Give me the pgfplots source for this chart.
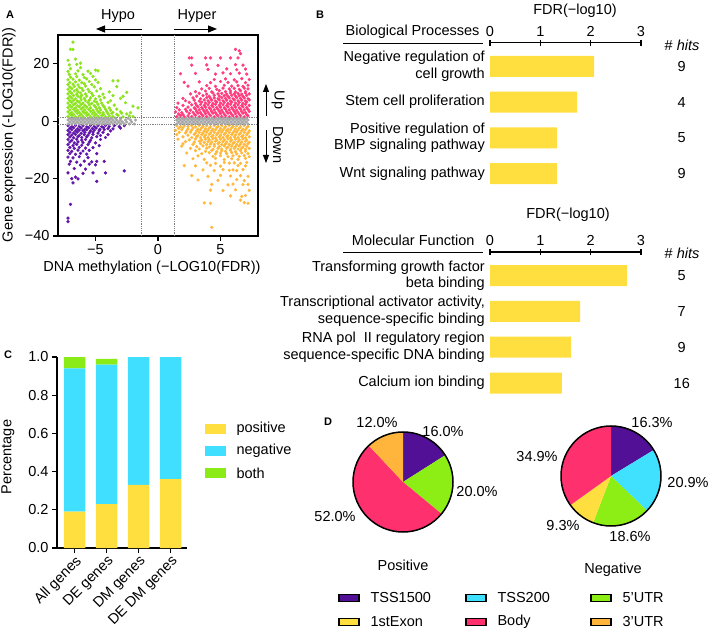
\documentclass[border=0pt]{standalone}
\usepackage{fontspec}
\setmainfont{Liberation Sans}
\usepackage{pgfplots}
\pgfplotsset{compat=1.18}
\usetikzlibrary{arrows.meta}

\definecolor{upG}{RGB}{140,228,30}
\definecolor{dnP}{RGB}{98,22,170}
\definecolor{upR}{RGB}{255,60,125}
\definecolor{dnO}{RGB}{255,184,60}
\definecolor{midG}{RGB}{165,165,165}
\definecolor{barY}{RGB}{255,222,64}
\definecolor{barC}{RGB}{64,222,255}
\definecolor{barG}{RGB}{138,235,22}
\definecolor{cTSSa}{RGB}{82,16,150}
\definecolor{cTSSb}{RGB}{64,224,255}
\definecolor{cUTRf}{RGB}{140,238,20}
\definecolor{cExon}{RGB}{255,222,64}
\definecolor{cBody}{RGB}{255,48,110}
\definecolor{cUTRt}{RGB}{255,180,60}

\newcommand{\fs}{\fontsize{14.5}{16.5}\selectfont}
\pgfplotsset{every axis/.append style={font=\fs,
  axis line style={line width=1.1pt},
  every tick/.style={line width=1.1pt, black},
  major tick length=5pt},
  dots/.style={only marks, mark=*, mark size=1.45pt}}

\begin{document}
\begin{tikzpicture}[x=1pt,y=1pt,font=\fs]
\path[use as bounding box] (0,0) rectangle (709,632);

% ---------------- A: scatter ----------------
\begin{axis}[at={(58pt,396pt)}, anchor=south west, scale only axis,
  width=200pt, height=201pt,
  xmin=-8, xmax=8, ymin=-40, ymax=30,
  xtick={-5,0,5}, xticklabels={−5,0,5},
  ytick={-40,-20,0,20}, yticklabels={−40,−20,0,20},
  tick align=outside, xtick pos=left, ytick pos=left]
  % hypo, up
  \addplot[dots, color=upG] coordinates {
  (-7.2,1.6)(-6.9,1.9)(-6.6,1.5)(-6.3,1.8)(-6.0,1.6)(-5.7,2.0)(-5.4,1.5)(-5.1,1.8)(-4.8,1.6)(-4.5,1.9)(-4.2,1.5)(-3.9,1.8)(-3.6,1.6)(-3.2,2.0)(-2.8,1.5)(-2.3,1.8)(-2.0,1.6)
  (-7.05,2.5)(-6.75,2.3)(-6.45,2.7)(-6.15,2.4)(-5.85,2.8)(-5.55,2.3)(-5.25,2.6)(-4.95,2.4)(-4.65,2.8)(-4.35,2.3)(-4.0,2.6)(-3.7,2.7)(-3.3,2.4)(-2.9,2.8)(-2.5,2.5)
  (-7.2,3.2)(-6.9,3.0)(-6.6,3.4)(-6.3,3.1)(-6.0,3.3)(-5.7,3.0)(-5.4,3.4)(-5.1,3.1)(-4.8,3.3)(-4.4,3.0)(-4.1,3.4)(-3.6,3.1)(-3.0,3.3)(-2.2,3.0)
  (-7.05,3.9)(-6.75,4.1)(-6.45,3.8)(-6.15,4.2)(-5.85,3.9)(-5.55,4.1)(-5.2,3.8)(-4.9,4.2)(-4.6,3.9)(-4.2,4.1)(-3.8,3.8)(-3.3,4.2)
  (-7.2,4.7)(-6.9,4.9)(-6.6,4.6)(-6.3,5.0)(-6.0,4.7)(-5.7,4.9)(-5.4,4.6)(-5.0,5.0)(-4.7,4.7)(-4.3,4.9)(-3.9,4.6)(-1.6,4.6)
  (-7.05,5.5)(-6.75,5.7)(-6.45,5.4)(-6.15,5.8)(-5.85,5.5)(-5.5,5.7)(-5.1,5.4)(-4.8,5.8)(-4.4,5.5)(-3.5,5.6)(-2.0,5.2)
  (-7.2,6.3)(-6.9,6.5)(-6.6,6.2)(-6.3,6.6)(-6.0,6.3)(-5.6,6.5)(-5.3,6.2)(-4.9,6.6)(-4.5,6.3)(-4.0,6.5)(-2.6,6.4)
  (-7.05,7.1)(-6.75,7.3)(-6.45,7.0)(-6.15,7.4)(-5.8,7.1)(-5.5,7.3)(-5.1,7.0)(-4.6,7.4)(-3.8,7.1)
  (-7.2,7.9)(-6.9,8.1)(-6.6,7.8)(-6.2,8.2)(-5.9,7.9)(-5.4,8.1)(-5.0,7.8)(-4.3,8.2)(-3.0,7.9)
  (-7.05,8.7)(-6.75,8.9)(-6.4,8.6)(-6.1,9.0)(-5.7,8.7)(-5.2,8.9)(-4.7,8.6)(-3.6,8.9)(-2.8,8.6)
  (-7.2,9.5)(-6.9,9.7)(-6.5,9.4)(-6.2,9.8)(-5.8,9.5)(-5.3,9.7)(-4.4,9.4)(-2.5,10.0)
  (-7.05,10.3)(-6.7,10.5)(-6.4,10.2)(-6.0,10.6)(-5.5,10.3)(-4.9,10.5)(-3.9,10.2)
  (-7.2,11.1)(-6.9,11.3)(-6.5,11.0)(-6.1,11.4)(-5.6,11.1)(-4.6,11.3)
  (-7.05,11.9)(-6.7,12.1)(-6.3,11.8)(-5.8,12.2)(-5.1,11.9)(-3.3,12.0)
  (-7.2,12.7)(-6.8,12.9)(-6.4,12.6)(-5.9,13.0)(-5.3,12.7)
  (-7.05,13.5)(-6.6,13.7)(-6.1,13.4)(-5.5,13.8)(-4.8,13.5)(-3.6,14.0)(-3.2,14.0)
  (-7.2,14.4)(-6.8,14.6)(-6.3,14.3)(-5.7,14.7)(-5.0,14.4)
  (-7.0,15.3)(-6.5,15.5)(-5.9,15.2)(-5.2,15.6)
  (-7.1,16.3)(-6.6,16.5)(-6.0,16.2)(-5.4,16.6)(-5.0,17.8)(-4.8,17.5)
  (-7.2,17.3)(-6.4,17.5)(-5.6,17.4)(-7.0,18.3)(-6.2,18.6)(-7.1,19.6)(-6.5,19.8)(-6.2,20.2)
  (-7.2,21.2)(-6.6,21.6)(-7.0,25.0)(-6.8,25.0)(-6.8,27.5)
  };
  % hypo, down
  \addplot[dots, color=dnP] coordinates {
  (-7.2,-1.6)(-6.9,-1.9)(-6.6,-1.5)(-6.3,-1.8)(-6.0,-1.6)(-5.7,-2.0)(-5.4,-1.5)(-5.1,-1.8)(-4.8,-1.6)(-4.5,-1.9)(-4.2,-1.5)(-3.9,-1.8)(-3.5,-1.6)(-3.1,-1.9)(-2.7,-1.6)
  (-7.05,-2.5)(-6.75,-2.3)(-6.45,-2.7)(-6.15,-2.4)(-5.85,-2.8)(-5.55,-2.3)(-5.25,-2.6)(-4.95,-2.4)(-4.65,-2.8)(-4.35,-2.3)(-4.0,-2.6)(-3.6,-2.7)(-3.0,-2.4)
  (-7.2,-3.2)(-6.9,-3.0)(-6.6,-3.4)(-6.3,-3.1)(-6.0,-3.3)(-5.7,-3.0)(-5.4,-3.4)(-5.1,-3.1)(-4.7,-3.3)(-4.3,-3.0)(-3.8,-3.4)
  (-7.05,-3.9)(-6.75,-4.1)(-6.45,-3.8)(-6.15,-4.2)(-5.85,-3.9)(-5.5,-4.1)(-5.2,-3.8)(-4.8,-4.2)(-4.4,-3.9)
  (-7.2,-4.7)(-6.9,-4.9)(-6.6,-4.6)(-6.3,-5.0)(-5.9,-4.7)(-5.6,-4.9)(-5.2,-4.6)(-4.6,-5.0)(-4.0,-4.7)
  (-7.05,-5.5)(-6.75,-5.8)(-6.4,-5.4)(-6.1,-5.7)(-5.7,-5.5)(-5.3,-5.8)(-4.9,-5.4)(-4.2,-5.7)
  (-7.2,-6.4)(-6.9,-6.7)(-6.5,-6.3)(-6.1,-6.6)(-5.8,-6.4)(-5.4,-6.7)(-4.6,-6.4)
  (-7.05,-7.3)(-6.7,-7.6)(-6.4,-7.2)(-6.0,-7.5)(-5.5,-7.3)(-5.0,-7.6)
  (-7.2,-8.2)(-6.8,-8.5)(-6.5,-8.1)(-6.1,-8.4)(-5.6,-8.2)(-4.7,-8.5)
  (-7.05,-9.2)(-6.7,-9.5)(-6.3,-9.1)(-5.8,-9.4)(-5.2,-9.2)
  (-7.2,-10.2)(-6.9,-10.5)(-6.4,-10.1)(-6.0,-10.4)(-5.5,-10.2)
  (-7.05,-11.3)(-6.6,-11.6)(-6.2,-11.2)(-5.7,-11.5)(-4.9,-11.3)
  (-7.2,-12.5)(-6.8,-12.8)(-6.3,-12.4)(-5.6,-12.7)
  (-7.0,-14.0)(-6.5,-14.3)(-5.9,-13.9)(-5.3,-14.2)(-4.9,-14.0)(-4.3,-14.0)
  (-7.1,-15.0)(-6.2,-15.3)(-5.5,-15.0)(-5.0,-15.2)
  (-6.7,-16.5)(-5.8,-16.7)(-7.2,-18.0)(-6.0,-18.2)(-5.2,-18.0)(-4.2,-18.0)(-6.6,-19.5)
  (-6.9,-20.0)(-6.4,-20.1)(-4.9,-21.0)(-6.8,-21.5)(-2.7,-17.3)(-7.0,-29.0)(-7.2,-33.8)(-7.2,-35.0)
  };
  % hyper, up
  \addplot[dots, color=upR] coordinates {
  (1.5,1.6)(1.8,1.9)(2.1,1.5)(2.4,1.8)(2.7,1.6)(3.0,2.0)(3.3,1.5)(3.6,1.8)(3.9,1.6)(4.2,1.9)(4.5,1.5)(4.8,1.8)(5.1,1.6)(5.4,1.9)(5.7,1.5)(6.0,1.8)(6.3,1.6)(6.6,1.9)(6.9,1.5)(7.2,1.8)
  (1.65,2.5)(2.0,2.3)(2.5,2.7)(2.9,2.4)(3.2,2.8)(3.5,2.3)(3.8,2.6)(4.1,2.4)(4.4,2.8)(4.7,2.3)(5.0,2.6)(5.3,2.4)(5.6,2.8)(5.9,2.3)(6.2,2.6)(6.5,2.4)(6.8,2.8)(7.1,2.3)
  (1.4,3.2)(1.9,3.0)(2.3,3.4)(2.8,3.1)(3.1,3.3)(3.4,3.0)(3.7,3.4)(4.0,3.1)(4.3,3.3)(4.6,3.0)(4.9,3.4)(5.2,3.1)(5.5,3.3)(5.8,3.0)(6.1,3.4)(6.4,3.1)(6.7,3.3)(7.0,3.0)(7.3,3.4)
  (1.7,3.9)(2.2,4.1)(2.6,3.8)(3.0,4.2)(3.3,3.9)(3.6,4.1)(3.9,3.8)(4.2,4.2)(4.5,3.9)(4.8,4.1)(5.1,3.8)(5.4,4.2)(5.7,3.9)(6.0,4.1)(6.3,3.8)(6.6,4.2)(6.9,3.9)(7.2,4.1)
  (1.5,4.7)(2.4,4.9)(2.9,4.6)(3.2,5.0)(3.5,4.7)(3.8,4.9)(4.1,4.6)(4.4,5.0)(4.7,4.7)(5.0,4.9)(5.3,4.6)(5.6,5.0)(5.9,4.7)(6.2,4.9)(6.5,4.6)(6.8,5.0)(7.1,4.7)
  (2.0,5.5)(2.7,5.7)(3.1,5.4)(3.4,5.8)(3.7,5.5)(4.0,5.7)(4.3,5.4)(4.6,5.8)(4.9,5.5)(5.2,5.7)(5.5,5.4)(5.8,5.8)(6.1,5.5)(6.4,5.7)(6.7,5.4)(7.0,5.8)(7.3,5.5)
  (1.6,6.3)(2.5,6.5)(3.0,6.2)(3.5,6.6)(3.8,6.3)(4.1,6.5)(4.4,6.2)(4.7,6.6)(5.0,6.3)(5.3,6.5)(5.6,6.2)(5.9,6.6)(6.2,6.3)(6.5,6.5)(6.8,6.2)(7.1,6.6)
  (2.2,7.1)(2.9,7.3)(3.3,7.0)(3.7,7.4)(4.0,7.1)(4.3,7.3)(4.6,7.0)(4.9,7.4)(5.2,7.1)(5.5,7.3)(5.8,7.0)(6.1,7.4)(6.4,7.1)(6.7,7.3)(7.0,7.0)(7.3,7.4)
  (2.0,7.9)(2.8,8.1)(3.4,7.8)(3.9,8.2)(4.2,7.9)(4.5,8.1)(4.8,7.8)(5.1,8.2)(5.4,7.9)(5.7,8.1)(6.0,7.8)(6.3,8.2)(6.6,7.9)(6.9,8.1)(7.2,7.8)
  (3.1,8.7)(3.6,8.9)(4.1,8.6)(4.5,9.0)(4.9,8.7)(5.3,8.9)(5.6,8.6)(5.9,9.0)(6.2,8.7)(6.5,8.9)(6.8,8.6)(7.1,9.0)
  (2.6,9.5)(3.3,9.7)(3.9,9.4)(4.4,9.8)(4.8,9.5)(5.1,9.7)(5.5,9.4)(5.8,9.8)(6.1,9.5)(6.4,9.7)(6.7,9.4)(7.0,9.8)(7.3,9.5)
  (3.0,10.3)(3.8,10.5)(4.3,10.2)(4.9,10.6)(5.4,10.3)(5.8,10.5)(6.2,10.2)(6.6,10.6)(7.0,10.3)
  (3.5,11.2)(4.1,11.4)(4.7,11.1)(5.2,11.5)(5.7,11.2)(6.1,11.4)(6.5,11.1)(6.9,11.5)(7.2,11.2)
  (2.4,12.2)(3.9,12.4)(4.6,12.1)(5.3,12.5)(5.9,12.2)(6.4,12.4)(6.8,12.1)(7.2,12.5)
  (2.1,13.5)(3.3,13.7)(4.2,13.4)(5.0,13.8)(5.6,13.5)(6.3,13.7)(7.0,13.4)
  (4.5,14.5)(5.4,14.7)(6.1,14.4)(6.7,14.8)(7.3,14.5)
  (1.8,16.5)(3.0,16.6)(4.6,16.4)(5.2,16.8)(5.8,16.5)(6.5,16.7)(7.1,16.4)
  (4.0,18.0)(5.5,18.2)(6.3,17.9)(7.0,18.1)(2.7,19.5)(3.9,19.6)(4.8,19.4)(6.2,19.7)(6.8,19.5)
  (2.5,22.0)(2.7,22.0)(3.8,22.0)(4.2,22.0)(5.0,22.0)(5.8,22.0)(6.4,22.0)(6.6,23.5)(6.2,25.0)(6.5,24.5)
  };
  % hyper, down
  \addplot[dots, color=dnO] coordinates {
  (1.5,-1.6)(1.8,-1.9)(2.1,-1.5)(2.4,-1.8)(2.7,-1.6)(3.0,-2.0)(3.3,-1.5)(3.6,-1.8)(3.9,-1.6)(4.2,-1.9)(4.5,-1.5)(4.8,-1.8)(5.1,-1.6)(5.4,-1.9)(5.7,-1.5)(6.0,-1.8)(6.3,-1.6)(6.6,-1.9)(6.9,-1.5)(7.2,-1.8)
  (1.65,-2.5)(2.0,-2.3)(2.4,-2.7)(2.8,-2.4)(3.2,-2.8)(3.5,-2.3)(3.8,-2.6)(4.1,-2.4)(4.4,-2.8)(4.7,-2.3)(5.0,-2.6)(5.3,-2.4)(5.6,-2.8)(5.9,-2.3)(6.2,-2.6)(6.5,-2.4)(6.8,-2.8)(7.1,-2.3)
  (1.4,-3.2)(1.9,-3.0)(2.3,-3.4)(2.7,-3.1)(3.1,-3.3)(3.4,-3.0)(3.7,-3.4)(4.0,-3.1)(4.3,-3.3)(4.6,-3.0)(4.9,-3.4)(5.2,-3.1)(5.5,-3.3)(5.8,-3.0)(6.1,-3.4)(6.4,-3.1)(6.7,-3.3)(7.0,-3.0)(7.3,-3.4)
  (1.7,-3.9)(2.2,-4.1)(2.6,-3.8)(3.0,-4.2)(3.3,-3.9)(3.6,-4.1)(3.9,-3.8)(4.2,-4.2)(4.5,-3.9)(4.8,-4.1)(5.1,-3.8)(5.4,-4.2)(5.7,-3.9)(6.0,-4.1)(6.3,-3.8)(6.6,-4.2)(6.9,-3.9)(7.2,-4.1)
  (1.5,-4.7)(2.4,-4.9)(2.9,-4.6)(3.2,-5.0)(3.5,-4.7)(3.8,-4.9)(4.1,-4.6)(4.4,-5.0)(4.7,-4.7)(5.0,-4.9)(5.3,-4.6)(5.6,-5.0)(5.9,-4.7)(6.2,-4.9)(6.5,-4.6)(6.8,-5.0)(7.1,-4.7)
  (2.0,-5.5)(2.7,-5.7)(3.1,-5.4)(3.4,-5.8)(3.7,-5.5)(4.0,-5.7)(4.3,-5.4)(4.6,-5.8)(4.9,-5.5)(5.2,-5.7)(5.5,-5.4)(5.8,-5.8)(6.1,-5.5)(6.4,-5.7)(6.7,-5.4)(7.0,-5.8)(7.3,-5.5)
  (1.6,-6.3)(2.5,-6.5)(3.0,-6.2)(3.5,-6.6)(3.8,-6.3)(4.1,-6.5)(4.4,-6.2)(4.7,-6.6)(5.0,-6.3)(5.3,-6.5)(5.6,-6.2)(5.9,-6.6)(6.2,-6.3)(6.5,-6.5)(6.8,-6.2)(7.1,-6.6)
  (2.2,-7.1)(2.9,-7.3)(3.3,-7.0)(3.7,-7.4)(4.0,-7.1)(4.3,-7.3)(4.6,-7.0)(4.9,-7.4)(5.2,-7.1)(5.5,-7.3)(5.8,-7.0)(6.1,-7.4)(6.4,-7.1)(6.7,-7.3)(7.0,-7.0)(7.3,-7.4)
  (2.0,-7.9)(2.8,-8.1)(3.4,-7.8)(3.9,-8.2)(4.2,-7.9)(4.5,-8.1)(4.8,-7.8)(5.1,-8.2)(5.4,-7.9)(5.7,-8.1)(6.0,-7.8)(6.3,-8.2)(6.6,-7.9)(6.9,-8.1)(7.2,-7.8)
  (1.9,-8.7)(3.1,-8.9)(3.6,-8.6)(4.1,-9.0)(4.5,-8.7)(4.9,-8.9)(5.3,-8.6)(5.6,-9.0)(5.9,-8.7)(6.2,-8.9)(6.5,-8.6)(6.8,-9.0)(7.1,-8.7)
  (2.6,-9.5)(3.3,-9.7)(3.9,-9.4)(4.4,-9.8)(4.8,-9.5)(5.1,-9.7)(5.5,-9.4)(5.8,-9.8)(6.1,-9.5)(6.4,-9.7)(6.7,-9.4)(7.0,-9.8)(7.3,-9.5)
  (3.0,-10.3)(3.8,-10.5)(4.3,-10.2)(4.7,-10.6)(5.1,-10.3)(5.4,-10.5)(5.8,-10.2)(6.2,-10.6)(6.6,-10.3)(7.0,-10.5)
  (2.3,-11.1)(3.5,-11.3)(4.1,-11.0)(4.6,-11.4)(5.0,-11.1)(5.5,-11.3)(5.9,-11.0)(6.3,-11.4)(6.7,-11.1)(7.2,-11.3)
  (3.2,-12.1)(4.4,-12.3)(5.0,-12.0)(5.6,-12.4)(6.0,-12.1)(6.5,-12.3)(6.9,-12.0)(7.3,-12.4)
  (2.8,-13.1)(3.7,-13.3)(4.6,-13.0)(5.3,-13.4)(5.9,-13.1)(6.4,-13.3)(7.0,-13.0)
  (3.9,-14.5)(4.6,-14.7)(5.3,-14.4)(5.7,-14.6)(6.1,-14.5)(6.6,-14.7)(7.1,-14.4)
  (2.1,-15.5)(3.0,-15.6)(4.2,-15.4)(5.0,-15.7)(6.4,-15.5)(7.0,-15.6)
  (3.6,-17.0)(4.5,-17.2)(5.2,-16.9)(5.7,-17.1)(6.0,-17.0)(6.3,-17.2)(6.8,-16.9)
  (2.7,-19.0)(4.0,-19.2)(5.0,-18.9)(5.8,-19.1)(6.6,-19.0)(7.2,-19.2)
  (3.2,-20.5)(4.8,-20.6)(6.3,-20.4)(6.9,-20.7)
  (4.3,-22.0)(5.6,-22.2)(6.0,-21.9)(6.8,-22.1)(7.2,-22.0)
  (4.2,-24.0)(5.2,-24.2)(6.2,-23.9)(7.3,-24.1)(5.8,-26.0)(6.7,-26.2)(7.0,-25.9)
  (3.7,-28.5)(4.2,-28.6)(6.9,-28.4)(7.2,-28.6)(6.6,-27.5)(4.3,-37.0)
  };
  % not significant in expression
  \addplot[dots, color=midG] coordinates {
  (-7.2,-1.0)(-6.9,-1.0)(-6.6,-1.0)(-6.3,-1.0)(-6.0,-1.0)(-5.7,-1.0)(-5.4,-1.0)(-5.1,-1.0)(-4.8,-1.0)(-4.5,-1.0)(-4.2,-1.0)(-3.9,-1.0)(-3.6,-1.0)(-3.3,-1.0)(-3.0,-1.0)(-2.7,-1.0)(-2.3,-1.0)(-1.9,-1.0)
  (-7.05,-0.3)(-6.75,-0.3)(-6.45,-0.3)(-6.15,-0.3)(-5.85,-0.3)(-5.55,-0.3)(-5.25,-0.3)(-4.95,-0.3)(-4.65,-0.3)(-4.35,-0.3)(-4.05,-0.3)(-3.75,-0.3)(-3.45,-0.3)(-3.15,-0.3)(-2.85,-0.3)(-2.5,-0.3)(-2.1,-0.3)
  (-7.2,0.4)(-6.9,0.4)(-6.6,0.4)(-6.3,0.4)(-6.0,0.4)(-5.7,0.4)(-5.4,0.4)(-5.1,0.4)(-4.8,0.4)(-4.5,0.4)(-4.2,0.4)(-3.9,0.4)(-3.6,0.4)(-3.3,0.4)(-3.0,0.4)(-2.6,0.4)(-2.2,0.4)(-1.8,0.4)
  (-7.05,1.0)(-6.75,1.0)(-6.45,1.0)(-6.15,1.0)(-5.85,1.0)(-5.55,1.0)(-5.25,1.0)(-4.95,1.0)(-4.65,1.0)(-4.35,1.0)(-4.05,1.0)(-3.75,1.0)(-3.4,1.0)(-3.0,1.0)(-2.4,1.0)
  (1.5,-1.0)(1.8,-1.0)(2.1,-1.0)(2.4,-1.0)(2.7,-1.0)(3.0,-1.0)(3.3,-1.0)(3.6,-1.0)(3.9,-1.0)(4.2,-1.0)(4.5,-1.0)(4.8,-1.0)(5.1,-1.0)(5.4,-1.0)(5.7,-1.0)(6.0,-1.0)(6.3,-1.0)(6.6,-1.0)(6.9,-1.0)(7.2,-1.0)
  (1.65,-0.3)(1.95,-0.3)(2.25,-0.3)(2.55,-0.3)(2.85,-0.3)(3.15,-0.3)(3.45,-0.3)(3.75,-0.3)(4.05,-0.3)(4.35,-0.3)(4.65,-0.3)(4.95,-0.3)(5.25,-0.3)(5.55,-0.3)(5.85,-0.3)(6.15,-0.3)(6.45,-0.3)(6.75,-0.3)(7.05,-0.3)
  (1.5,0.4)(1.8,0.4)(2.1,0.4)(2.4,0.4)(2.7,0.4)(3.0,0.4)(3.3,0.4)(3.6,0.4)(3.9,0.4)(4.2,0.4)(4.5,0.4)(4.8,0.4)(5.1,0.4)(5.4,0.4)(5.7,0.4)(6.0,0.4)(6.3,0.4)(6.6,0.4)(6.9,0.4)(7.2,0.4)
  (1.65,1.0)(1.95,1.0)(2.25,1.0)(2.55,1.0)(2.85,1.0)(3.15,1.0)(3.45,1.0)(3.75,1.0)(4.05,1.0)(4.35,1.0)(4.65,1.0)(4.95,1.0)(5.25,1.0)(5.55,1.0)(5.85,1.0)(6.15,1.0)(6.45,1.0)(6.75,1.0)(7.05,1.0)
  };
  % significance thresholds
  \addplot[densely dotted, gray, line width=0.8pt] coordinates {(-1.3,-40) (-1.3,30)};
  \addplot[densely dotted, gray, line width=0.8pt] coordinates {(1.3,-40) (1.3,30)};
  \addplot[densely dotted, gray, line width=0.8pt] coordinates {(-8,1.3) (8,1.3)};
  \addplot[densely dotted, gray, line width=0.8pt] coordinates {(-8,-1.3) (8,-1.3)};
\end{axis}
\node[rotate=90] at (9,497) {Gene expression (-LOG10(FDR))};
\node at (152,364) {DNA methylation (−LOG10(FDR))};
\node at (118,616) {Hypo};
\node at (197,616) {Hyper};
\draw[-{Triangle[length=9pt,width=7pt]}, line width=0.9pt] (142,603) -- (96,603);
\draw[-{Triangle[length=9pt,width=7pt]}, line width=0.9pt] (174,603) -- (217,603);
\draw[-{Triangle[length=8pt,width=6pt]}, line width=0.8pt] (266,516) -- (266,548);
\draw[-{Triangle[length=8pt,width=6pt]}, line width=0.8pt] (266,502) -- (266,469);
\node[rotate=-90] at (278,532) {Up};
\node[rotate=-90] at (278,487) {Down};
\node[font=\bfseries\fontsize{11}{12}\selectfont] at (10,617) {A};

% ---------------- B: GO enrichment ----------------
\node[font=\bfseries\fontsize{11}{12}\selectfont] at (320,617) {B};
\begin{axis}[at={(490pt,589.3pt)}, anchor=north west, scale only axis,
  width=151pt, height=152.5pt, clip=false,
  xmin=0, xmax=3, ymin=-3.6, ymax=0.66,
  axis x line*=top, axis y line*=left,
  y axis line style={draw=none},
  xtick={0,1,2,3}, xticklabels={0,1,2,3},
  tick align=center, major tick length=6pt,
  ytick={0,-1,-2,-3},
  yticklabels={{Negative regulation of\\cell growth}, {Stem cell proliferation},
    {Positive regulation of\\BMP signaling pathway}, {Wnt signaling pathway}},
  yticklabel style={align=right, inner sep=2pt},
  ytick style={draw=none}]
  \addplot[xbar, bar width=21pt, fill=barY, draw=none] coordinates {(2.07,0) (1.73,-1) (1.33,-2) (1.33,-3)};
  \node at (axis cs:3.81,0) {9};
  \node at (axis cs:3.81,-1) {4};
  \node at (axis cs:3.81,-2) {5};
  \node at (axis cs:3.81,-3) {9};
\end{axis}
\node at (575,621) {FDR(−log10)};
\node[anchor=east] at (483,600) {Biological Processes};
\draw[line width=0.9pt] (343,589) -- (483,589);
\node at (682,587) {\# \textit{hits}};

\begin{axis}[at={(490pt,380pt)}, anchor=north west, scale only axis,
  width=151pt, height=152.5pt, clip=false,
  xmin=0, xmax=3, ymin=-3.6, ymax=0.66,
  axis x line*=top, axis y line*=left,
  y axis line style={draw=none},
  xtick={0,1,2,3}, xticklabels={0,1,2,3},
  tick align=center, major tick length=6pt,
  ytick={0,-1,-2,-3},
  yticklabels={{Transforming growth factor\\beta binding},
    {Transcriptional activator activity,\\sequence-specific binding},
    {RNA pol\ \ II regulatory region\\sequence-specific DNA binding},
    {Calcium ion binding}},
  yticklabel style={align=right, inner sep=2pt},
  ytick style={draw=none}]
  \addplot[xbar, bar width=21pt, fill=barY, draw=none] coordinates {(2.72,0) (1.79,-1) (1.61,-2) (1.43,-3)};
  \node at (axis cs:3.81,0) {5};
  \node at (axis cs:3.81,-1) {7};
  \node at (axis cs:3.81,-2) {9};
  \node at (axis cs:3.81,-3) {16};
\end{axis}
\node at (568,417) {FDR(−log10)};
\node[anchor=east] at (478,392) {Molecular Function};
\draw[line width=0.9pt] (343,380) -- (483,380);
\node at (682,379) {\# \textit{hits}};

% ---------------- C: stacked bars ----------------
\node[font=\bfseries\fontsize{11}{12}\selectfont] at (8,277) {C};
\begin{axis}[at={(57pt,84pt)}, anchor=south west, scale only axis,
  width=129.6pt, height=191pt,
  xmin=-0.55, xmax=3.5, ymin=0, ymax=1,
  axis lines*=left, axis line style={-},
  tick align=outside,
  ybar stacked, bar width=21.7pt,
  xtick={0,1,2,3},
  xticklabels={All genes, DE genes, DM genes, DE DM genes},
  xticklabel style={rotate=45, anchor=north east, inner sep=1pt},
  ytick={0,0.2,0.4,0.6,0.8,1},
  yticklabels={0.0,0.2,0.4,0.6,0.8,1.0}]
  \addplot[fill=barY, draw=none] coordinates {(0,0.19) (1,0.23) (2,0.33) (3,0.36)};
  \addplot[fill=barC, draw=none] coordinates {(0,0.75) (1,0.73) (2,0.67) (3,0.64)};
  \addplot[fill=barG, draw=none] coordinates {(0,0.06) (1,0.03) (2,0) (3,0)};
\end{axis}
\node[rotate=90] at (8,175) {Percentage};
\fill[barY] (205,198) rectangle (226,208);
\fill[barC] (205,176) rectangle (226,186);
\fill[barG] (205,154) rectangle (226,164);
\node[anchor=west] at (233,203) {positive};
\node[anchor=west] at (233,181) {negative};
\node[anchor=west] at (233,159) {both};

% ---------------- D: pies ----------------
\node[font=\bfseries\fontsize{11}{12}\selectfont] at (328,210) {D};
\begin{axis}[at={(403pt,150pt)}, anchor=center, scale only axis,
  width=100pt, height=100pt, hide axis, clip=false,
  xmin=-1, xmax=1, ymin=-1, ymax=1]
  \fill[cTSSa] (axis cs:0,0) -- ++(90:50pt) arc[start angle=90, end angle={90-3.6*16.0}, radius=50pt] -- cycle;
  \fill[cUTRf] (axis cs:0,0) -- ++({90-3.6*16.0}:50pt) arc[start angle={90-3.6*16.0}, end angle={90-3.6*36.0}, radius=50pt] -- cycle;
  \fill[cBody] (axis cs:0,0) -- ++({90-3.6*36.0}:50pt) arc[start angle={90-3.6*36.0}, end angle={90-3.6*88.0}, radius=50pt] -- cycle;
  \fill[cUTRt] (axis cs:0,0) -- ++({90-3.6*88.0}:50pt) arc[start angle={90-3.6*88.0}, end angle={90-3.6*100.0}, radius=50pt] -- cycle;
  \draw[line width=1.5pt] (axis cs:0,0) circle[radius=50pt];
\end{axis}
\begin{axis}[at={(611pt,156pt)}, anchor=center, scale only axis,
  width=100pt, height=100pt, hide axis, clip=false,
  xmin=-1, xmax=1, ymin=-1, ymax=1]
  \fill[cTSSa] (axis cs:0,0) -- ++(90:50pt) arc[start angle=90, end angle={90-3.6*16.3}, radius=50pt] -- cycle;
  \fill[cTSSb] (axis cs:0,0) -- ++({90-3.6*16.3}:50pt) arc[start angle={90-3.6*16.3}, end angle={90-3.6*37.2}, radius=50pt] -- cycle;
  \fill[cUTRf] (axis cs:0,0) -- ++({90-3.6*37.2}:50pt) arc[start angle={90-3.6*37.2}, end angle={90-3.6*55.8}, radius=50pt] -- cycle;
  \fill[cExon] (axis cs:0,0) -- ++({90-3.6*55.8}:50pt) arc[start angle={90-3.6*55.8}, end angle={90-3.6*65.1}, radius=50pt] -- cycle;
  \fill[cBody] (axis cs:0,0) -- ++({90-3.6*65.1}:50pt) arc[start angle={90-3.6*65.1}, end angle={90-3.6*100.0}, radius=50pt] -- cycle;
  \draw[line width=1.5pt] (axis cs:0,0) circle[radius=50pt];
\end{axis}
\node at (443,200) {16.0\%};
\node at (477,140) {20.0\%};
\node at (335,115) {52.0\%};
\node at (377,209) {12.0\%};
\node at (652,209) {16.3\%};
\node at (688,149) {20.9\%};
\node at (630,95) {18.6\%};
\node at (563,106) {9.3\%};
\node at (537,175) {34.9\%};
\node at (403,67) {Positive};
\node at (613,62) {Negative};
\foreach \c/\t/\x/\y in {cTSSa/TSS1500/339/34, cTSSb/TSS200/466/34, cUTRf/5'UTR/591/34,
                         cExon/1stExon/339/10, cBody/Body/466/10, cUTRt/3'UTR/591/10}{
  \filldraw[fill=\c, draw=black, line width=1.3pt] (\x,\y-3.5) rectangle ++(20,7);
  \node[anchor=west] at ({\x+28},\y) {\t};
}
\end{tikzpicture}
\end{document}
